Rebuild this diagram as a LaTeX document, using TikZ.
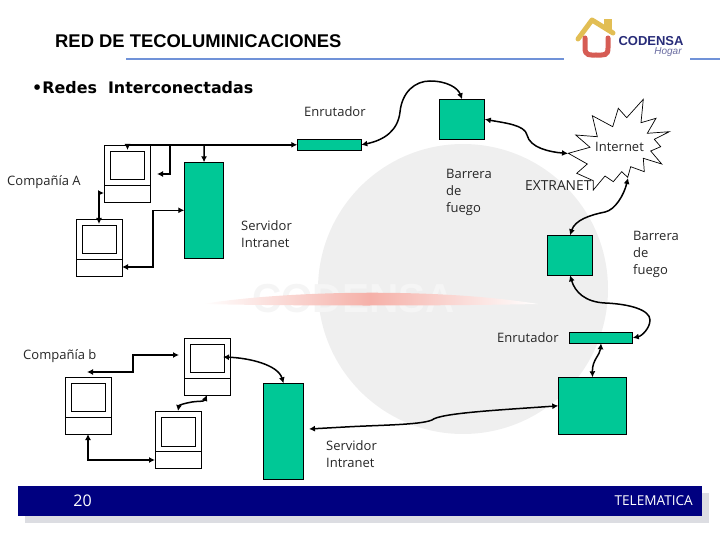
\documentclass[tikz,border=0pt]{standalone}
\usepackage{fontspec}
\usetikzlibrary{arrows.meta, positioning}
\setmainfont{Open Sans}
\newfontfamily\titlefont{Liberation Sans}
\newfontfamily\bulletfont{DejaVu Sans}
\definecolor{boxgreen}{RGB}{0, 200, 150}
\definecolor{navybar}{RGB}{0, 0, 128}
\definecolor{barshadow}{RGB}{220, 221, 226}
\definecolor{rulerblue}{RGB}{112, 146, 216}
\definecolor{discgray}{RGB}{239, 239, 239}
\definecolor{swooshred}{RGB}{245, 176, 168}
\definecolor{roofgold}{RGB}{226, 190, 84}
\definecolor{logored}{RGB}{214, 92, 84}
\definecolor{logonavy}{RGB}{40, 44, 120}
\tikzset{
    greenbox/.style={draw=black, fill=boxgreen, line width=0.8pt, inner sep=0pt, outer sep=0pt, anchor=north west},
    compbox/.style={draw=black, fill=white, line width=0.8pt, inner sep=0pt, outer sep=0pt, anchor=north west, minimum width=46pt, minimum height=57pt},
    screenbox/.style={draw=black, line width=0.8pt, inner sep=0pt, outer sep=0pt, anchor=north west, minimum width=34pt, minimum height=28.5pt},
    netlabel/.style={font=\fontsize{13}{17}\selectfont, align=left, inner sep=0pt, anchor=west, text=black!85},
    link/.style={line width=1.5pt, {Latex[length=6pt,width=6pt]}-{Latex[length=6pt,width=6pt]}},
    branch/.style={line width=1.5pt, -{Latex[length=6pt,width=6pt]}}
}
% one terminal: case, screen and dividing line
\newcommand{\terminal}[3]{
    \node[compbox] (#1) at (#2,#3) {};
    \node[screenbox] (#1screen) at ([xshift=6pt,yshift=-6pt]#1.north west) {};
    \draw[line width=0.8pt] ([yshift=-40pt]#1.north west) -- ([yshift=-40pt]#1.north east);
}
\begin{document}
\begin{tikzpicture}[x=1pt, y=-1pt]
    \useasboundingbox (0,0) rectangle (720,540);

    % Background disc, watermark and swoosh
    \fill[discgray] (463,289) circle (145);
    \node[font=\titlefont\bfseries\fontsize{40.5}{40}\selectfont, text=black!4, inner sep=0pt] (watermark) at (353.5,299) {CODENSA};
    \shade[left color=white, right color=white, middle color=swooshred] (202,304) .. controls (290,290) and (440,288) .. (538,304) .. controls (440,306) and (290,306) .. (202,304);

    % Heading
    \draw[line width=1.3pt, rulerblue] (126,59) -- (564,59);
    \draw[line width=1.3pt, rulerblue] (690,59) -- (720,59);
    \node[font=\titlefont\bfseries\fontsize{18.4}{20}\selectfont, inner sep=0pt, anchor=west] (title) at (55,41.5) {RED DE TECOLUMINICACIONES};
    \node[font=\bulletfont\bfseries\fontsize{15.9}{18}\selectfont, inner sep=0pt, anchor=west] (subtitle) at (32,87.5) {•Redes\ \ Interconectadas};

    % Logo
    \draw[line width=5pt, logored, line cap=round] (585,38) -- (585,48) .. controls (585,56) and (590,55) .. (596,55) .. controls (604,55) and (608,56) .. (608,48) -- (608,38);
    \draw[line width=5pt, roofgold, line cap=round, line join=round] (578,39) -- (592,20) -- (613,33);
    \fill[roofgold] (604,19) rectangle (612,30);
    \node[font=\titlefont\bfseries\fontsize{13}{14}\selectfont, text=logonavy, inner sep=0pt] (codensa) at (651,41) {CODENSA};
    \node[font=\titlefont\itshape\fontsize{10}{10}\selectfont, text=logonavy!70, inner sep=0pt] (hogar) at (668,52.5) {Hogar};

    % Footer bar
    \fill[barshadow] (25,493) rectangle (709,523);
    \fill[navybar] (18,486) rectangle (702,516);
    \node[font=\fontsize{16}{18}\selectfont, text=white, inner sep=0pt] (page) at (82.5,501) {20};
    \node[font=\fontsize{13.6}{16}\selectfont, text=white, inner sep=0pt, anchor=east] (course) at (693,501) {TELEMATICA};

    % Terminals
    \terminal{compa}{104}{145}
    \terminal{compb}{76}{219}
    \terminal{compc}{184}{338}
    \terminal{compd}{65}{377}
    \terminal{compe}{155.5}{411.5}

    % Green boxes
    \node[greenbox, minimum width=39.5pt, minimum height=96pt] (srva) at (184.3,162.3) {};
    \node[greenbox, minimum width=64pt, minimum height=11pt] (routera) at (297.3,139.3) {};
    \node[greenbox, minimum width=45.5pt, minimum height=40pt] (fwa) at (439.3,99.3) {};
    \node[greenbox, minimum width=45.5pt, minimum height=40pt] (fwb) at (547.3,235.3) {};
    \node[greenbox, minimum width=63.5pt, minimum height=11pt] (routerb) at (569.3,332.3) {};
    \node[greenbox, minimum width=68.5pt, minimum height=57pt] (bigbox) at (558.3,377.3) {};
    \node[greenbox, minimum width=40.5pt, minimum height=96pt] (srvb) at (263.3,383.3) {};

    % Internet burst
    \draw[line width=0.7pt, fill=white] (643.3,99.3) -- (641,122.7) -- (656,118.3) -- (647.3,133.3) -- (669.3,131.7) -- (654.3,139.3) -- (660.7,146.7) -- (650.7,151) -- (661.7,164) -- (643.3,158.3) -- (644.3,171.7) -- (630.7,166.7) -- (627.7,177.3) -- (621.7,171.7) -- (613.3,181.7) -- (605,176) -- (593.3,190) -- (593.3,180.7) -- (576.7,173.3) -- (587.3,164) -- (568.3,153.3) -- (590,147.3) -- (575.7,135) -- (597.3,136.7) -- (592.3,115.7) -- (612.7,126.7) -- (618.3,108.3) -- (626.7,117.7) -- cycle;
    \coordinate (burstwest) at (568,153.5);
    \coordinate (burstsouth) at (628,178);

    % Free ends of the connectors
    \coordinate (tipa) at (127.5,150);
    \coordinate (forkb) at (170,145);
    \coordinate (tipb) at (157,174);
    \coordinate (forkc) at (204,145);
    \coordinate (tipc) at (104,193);
    \coordinate (tipd) at (99,224);
    \coordinate (elbowa) at (153,240);
    \coordinate (tipe) at (122,267);
    \coordinate (tipf) at (179,355);
    \coordinate (elbowb) at (133,363);
    \coordinate (tipg) at (87,372);
    \coordinate (tiph) at (155,460);
    \coordinate (tipi) at (223,357);
    \coordinate (tipj) at (207,395);
    \coordinate (tipk) at (178,411);
    \coordinate (tipm) at (309,429);

    % Square connectors
    \draw[link] (tipa) |- (routera.west);
    \draw[branch] (forkb) |- (tipb);
    \draw[branch] (forkc) -- (srva.north);
    \draw[link] (tipc) -| (tipd);
    \draw[link] (srva.west) -| (elbowa) |- (tipe);
    \draw[link] (tipf) -| (elbowb) |- (tipg);
    \draw[link] (compd.south) |- (tiph);

    % Curved connectors
    \draw[link] (routera.east) .. controls (385,140) and (398,130) .. (400,112) .. controls (402,92) and (415,81) .. (430,81) .. controls (447,81) and (458,88) .. (fwa.north);
    \draw[link] (fwa.east) .. controls (505,123) and (525,125) .. (527,135) .. controls (530,148) and (550,152) .. (burstwest);
    \draw[link] (burstsouth) .. controls (624,195) and (615,210) .. (605,212) .. controls (590,215) and (575,220) .. (fwb.north);
    \draw[link] (fwb.south) .. controls (575,292) and (585,302) .. (605,303) .. controls (630,304) and (650,310) .. (650,320) .. controls (650,328) and (642,336) .. (routerb.east);
    \draw[link] (routerb.south) .. controls (600,355) and (592,360) .. (bigbox.north);
    \draw[link] (tipm) -- (345,427) .. controls (380,425) and (420,425) .. (432,420) .. controls (440,413) and (500,410) .. (bigbox.west);
    \draw[link] (tipi) .. controls (250,358) and (278,365) .. (srvb.north);
    \draw[link] (tipj) .. controls (204,402) and (196,401) .. (192,402) .. controls (186,403) and (179,405) .. (tipk);

    % Labels
    \node[netlabel] (rlabela) at (304,112) {Enrutador};
    \node[netlabel] (inet) at (595,147) {Internet};
    \node[netlabel] (companya) at (7,182.5) {Compañía A};
    \node[netlabel] (fwlabela) at (446,192) {Barrera\\de\\fuego};
    \node[netlabel, font=\fontsize{13.8}{17}\selectfont] (extra) at (525,186) {EXTRANET};
    \node[netlabel] (srvlabela) at (241,234.5) {Servidor\\Intranet};
    \node[netlabel] (fwlabelb) at (633,254) {Barrera\\de\\fuego};
    \node[netlabel] (rlabelb) at (497,338) {Enrutador};
    \node[netlabel] (companyb) at (23,356.5) {Compañía b};
    \node[netlabel] (srvlabelb) at (326,454.5) {Servidor\\Intranet};
\end{tikzpicture}
\end{document}
